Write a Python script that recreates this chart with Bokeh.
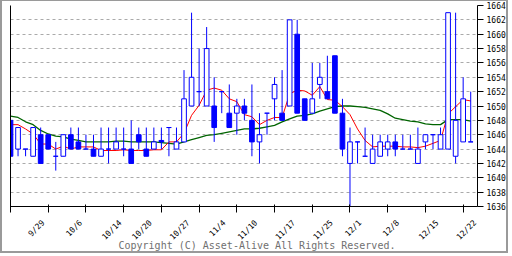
from math import pi
from bokeh.plotting import figure
from bokeh.models import (ColumnDataSource, LinearAxis, FixedTicker, Range1d, Title)
from bokeh.embed import file_html
from bokeh.resources import INLINE

# ---- data ----
opens = [1648, 1644, 1644, 1643, 1646, 1646, 1643, 1643, 1646, 1645,
         1644, 1644, 1643, 1644, 1644, 1644, 1644, 1646, 1644, 1644,
         1645.2, 1647, 1644, 1645, 1650, 1652, 1650, 1650, 1652, 1649,
         1649, 1650, 1648, 1645, 1649, 1651, 1649, 1650, 1660, 1651,
         1649, 1653, 1652, 1657, 1649, 1642, 1645, 1643, 1642, 1643,
         1644, 1645, 1644, 1644, 1642, 1645, 1646, 1644, 1644, 1643,
         1645, 1645]
highs = [1648, 1647, 1644, 1647, 1647, 1646, 1645, 1646, 1647, 1647,
         1646, 1646, 1647, 1647, 1647, 1647, 1648, 1647, 1647, 1647,
         1647, 1647, 1647, 1655, 1663, 1658, 1661, 1654, 1652, 1653,
         1651, 1651, 1653, 1649, 1649, 1654, 1655, 1662, 1662, 1651,
         1656, 1656, 1657, 1657, 1651, 1647, 1645, 1647, 1646, 1646,
         1646, 1646, 1646, 1646, 1647, 1646, 1646, 1647, 1663, 1663,
         1654, 1652]
lows = [1643, 1643, 1643, 1643, 1642, 1644, 1641, 1643, 1644, 1644,
        1644, 1643, 1643, 1642, 1644, 1643, 1642, 1644, 1643, 1644,
        1644, 1643, 1644, 1645, 1650, 1650, 1650, 1645, 1649, 1647,
        1646, 1648, 1643, 1642, 1646, 1648, 1648, 1650, 1649, 1648,
        1649, 1651, 1651, 1649, 1643, 1636, 1642, 1643, 1642, 1643,
        1643, 1643, 1644, 1644, 1642, 1644, 1644, 1644, 1644, 1642,
        1645, 1645]
closes = [1643, 1647, 1644, 1647, 1642, 1644, 1643, 1646, 1644, 1644,
          1644, 1643, 1644, 1644, 1645, 1644, 1642, 1645, 1643, 1645,
          1645, 1647, 1645, 1651, 1654, 1652, 1658, 1647, 1652, 1647,
          1650, 1649, 1645, 1646, 1649, 1653, 1648, 1662, 1649, 1648,
          1651, 1654, 1651, 1649, 1644, 1645, 1645, 1643, 1644, 1645,
          1645, 1644, 1644, 1644, 1644, 1646, 1646, 1646, 1663, 1648,
          1651, 1645]
ma_short = [1647.4, 1647.4, 1646.8, 1646.1, 1644.7, 1644.7, 1644.0, 1644.4, 1644.0, 1644.3,
            1644.3, 1644.3, 1643.8, 1643.8, 1643.8, 1643.9, 1643.8, 1643.8, 1643.8, 1643.9,
            1643.9, 1645.0, 1645.0, 1646.2, 1648.7, 1650.1, 1652.2, 1652.5, 1652.2, 1651.0,
            1650.6, 1648.8, 1648.5, 1647.4, 1648.0, 1648.4, 1648.4, 1651.7, 1652.2, 1652.1,
            1651.5, 1652.7, 1650.9, 1650.8, 1649.9, 1648.8, 1646.8, 1645.2, 1644.3, 1644.4,
            1644.4, 1644.4, 1644.3, 1644.3, 1644.2, 1644.4, 1644.8, 1645.2, 1648.9, 1649.9,
            1650.9, 1650.7]
ma_long = [1648.6, 1648.4, 1647.8, 1647.4, 1646.6, 1646.1, 1645.8, 1645.7, 1645.4, 1645.2,
           1645.0, 1645.0, 1645.0, 1645.0, 1645.1, 1645.1, 1645.0, 1645.0, 1645.0, 1645.0,
           1644.9, 1644.8, 1644.7, 1645.0, 1645.3, 1645.6, 1645.9, 1646.0, 1646.2, 1646.4,
           1646.6, 1646.8, 1646.8, 1646.9, 1647.1, 1647.3, 1647.8, 1648.2, 1648.6, 1648.7,
           1648.9, 1649.3, 1649.6, 1649.9, 1650.0, 1650.0, 1649.9, 1649.8, 1649.6, 1649.4,
           1648.9, 1648.3, 1648.1, 1647.9, 1647.8, 1647.5, 1647.4, 1647.4, 1648.1, 1648.1,
           1648.1, 1647.9]
tick_positions = [0, 5, 10, 15, 20, 25, 30, 35, 40, 45, 50, 55, 60]
label_positions = [3, 8, 13, 17, 22, 27, 31, 36, 41, 45, 50, 55, 60]
date_labels = ["9/29", "10/6", "10/14", "10/20", "10/27", "11/4", "11/10",
               "11/17", "11/25", "12/1", "12/8", "12/15", "12/22"]
price_ticks = list(range(1636, 1665, 2))
copyright_text = "Copyright (C) Asset-Alive All Rights Reserved."

# ---- derived columns ----
idx = list(range(len(opens)))
tops = [max(o, c) for o, c in zip(opens, closes)]
bots = [min(o, c) for o, c in zip(opens, closes)]
fills = ["#0000ff" if c < o else "#ffffff" for o, c in zip(opens, closes)]
src = ColumnDataSource(dict(x=idx, high=highs, low=lows, top=tops, bottom=bots, fill=fills))

BLUE = "#0000ff"
MONO = "DejaVu Sans Mono"
X0, X1 = 0, 61.9
Y0, Y1 = 1636, 1664
PX_PER_X = 466.5 / (X1 - X0)

# rotated labels: their rotated box is anchored by its top-right corner; shift the
# anchor so the label's middle sits on its session (8px mono, 45 degrees)
label_ticks = [pos + (4.82 * len(lab) + 9.4) * 0.3536 / PX_PER_X
               for pos, lab in zip(label_positions, date_labels)]

p = figure(width=508, height=253, output_backend="svg", toolbar_location=None,
           x_range=Range1d(X0, X1), y_range=Range1d(Y0, Y1),
           y_axis_location="right",
           min_border_left=8, min_border_right=33, min_border_top=4, min_border_bottom=48)
p.styles = {"border-style": "solid", "border-color": "#9a9a9a",
            "border-width": "1px 2px 2px 2px"}
p.outline_line_color = None
p.background_fill_color = "#ffffff"
p.border_fill_color = "#ffffff"

# grid
p.xgrid.visible = False
p.ygrid.grid_line_color = "#aaaaaa"
p.ygrid.grid_line_dash = "3 3"
p.ygrid.grid_line_width = 1

# right price axis
ya = p.yaxis[0]
ya.ticker = FixedTicker(ticks=price_ticks)
ya.minor_tick_line_color = None
ya.major_tick_in = 0
ya.major_tick_out = 6
ya.major_label_standoff = 3
ya.major_label_text_font = MONO
ya.major_label_text_font_size = "8px"
ya.major_label_text_color = "#000000"
ya.axis_line_color = "#000000"

# bottom axis: tick marks every 5 sessions (minor), week-start date labels (major)
xa = p.xaxis[0]
xa.ticker = FixedTicker(ticks=label_ticks, minor_ticks=tick_positions)
xa.major_label_overrides = {t: lab for t, lab in zip(label_ticks, date_labels)}
xa.major_label_orientation = pi / 4
xa.major_tick_line_color = None
xa.major_tick_in = 0
xa.major_tick_out = 0
xa.minor_tick_line_color = "#000000"
xa.minor_tick_in = 2
xa.minor_tick_out = 6
xa.major_label_standoff = 9
xa.major_label_text_font = MONO
xa.major_label_text_font_size = "8px"
xa.major_label_text_line_height = 0.9
xa.major_label_text_color = "#000000"
xa.axis_line_color = "#000000"

# plain left axis line
la = LinearAxis(ticker=FixedTicker(ticks=[]), major_tick_out=0, major_tick_in=0,
                major_label_standoff=0, minor_tick_line_color=None,
                major_label_text_font_size="0px", axis_line_color="#000000")
p.add_layout(la, "left")

# moving averages
p.line(idx, ma_long, line_color="#006400", line_width=1.3)
p.line(idx, ma_short, line_color="#ff0000", line_width=1)

# candles
p.segment(x0="x", y0="high", x1="x", y1="low", source=src, line_color=BLUE, line_width=1)
p.vbar(x="x", width=0.62, top="top", bottom="bottom", source=src,
       fill_color="fill", line_color=BLUE, line_width=1)

# copyright line under the chart (pulled up towards the date labels)
title_kw = dict(text=copyright_text, align="left", offset=108, vertical_align="top",
                text_font=MONO, text_font_size="10px", text_line_height=0.9,
                text_font_style="normal", text_color="#707070")
try:
    copyright = Title(standoff=-16, **title_kw)
except Exception:
    copyright = Title(standoff=0, **title_kw)
p.add_layout(copyright, "below")

open("out.html", "w").write(file_html(p, INLINE))
